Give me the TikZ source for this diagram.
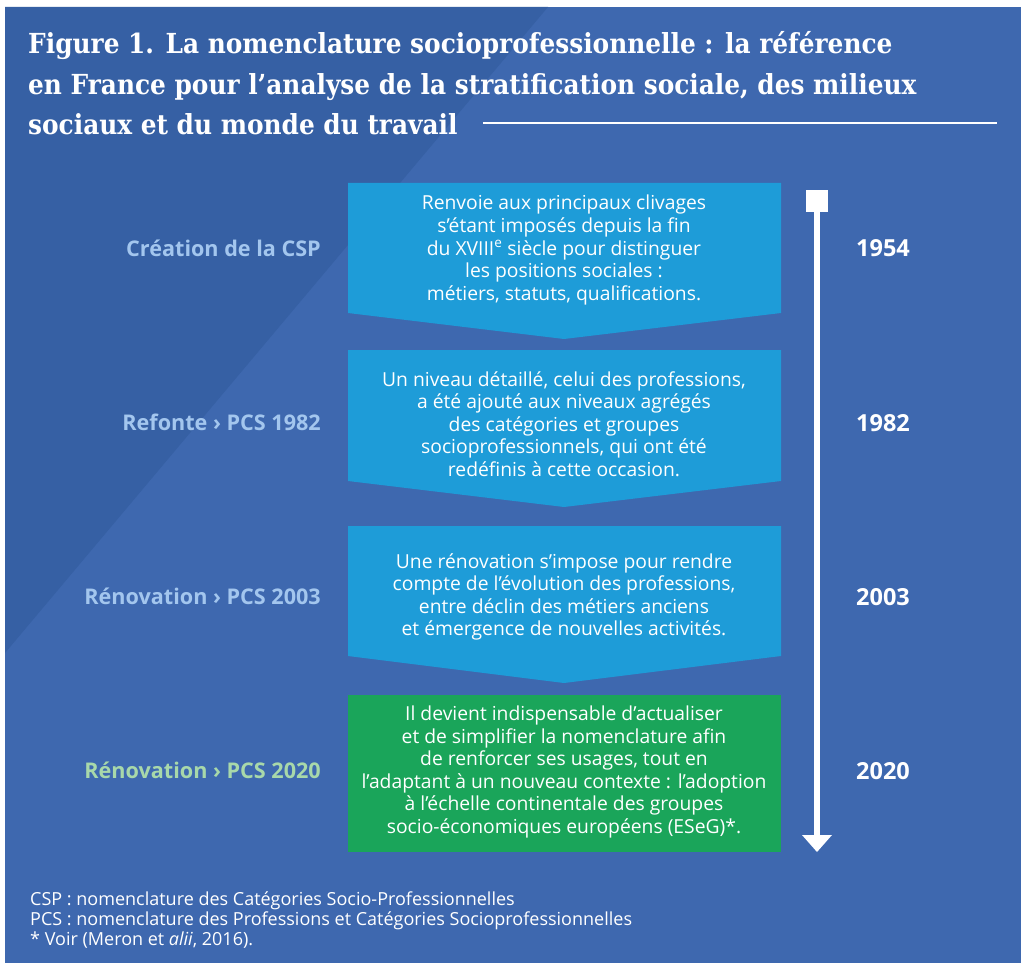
\documentclass[tikz,border=0pt]{standalone}
\usepackage{fontspec}
\setmainfont{Open Sans}
\newfontfamily\titlefont{DejaVu Serif Condensed}
\definecolor{bgmain}{HTML}{3E68AF}
\definecolor{bgdark}{HTML}{3660A4}
\definecolor{boxblue}{HTML}{1E9CD8}
\definecolor{boxgreen}{HTML}{1AA55A}
\definecolor{lblblue}{HTML}{A3C6EE}
\definecolor{lblgreen}{HTML}{A8D8AA}
\tikzset{
  boxtext/.style={text=white, align=center, font=\fontsize{19.3}{22.6}\selectfont, inner sep=0pt},
  steplabel/.style={anchor=east, text=lblblue, font=\fontsize{21.6}{25}\selectfont\bfseries, inner sep=0pt},
  yearlabel/.style={text=white, font=\fontsize{23.5}{27}\selectfont\bfseries, inner sep=0pt},
  titleline/.style={anchor=base west, text=white, font=\titlefont\bfseries\fontsize{27.6}{32}\selectfont, inner sep=0pt},
  foot/.style={anchor=west, text=white, align=left, font=\fontsize{18}{20}\selectfont, inner sep=0pt},
}
\begin{document}
\begin{tikzpicture}[x=1pt,y=-1pt]
\useasboundingbox (0,0) rectangle (1021,963);
\fill[white] (0,0) rectangle (1021,963);
% background
\fill[bgmain] (5,7) rectangle (1021,963);
\fill[bgdark] (5,7) -- (548,7) -- (5,653) -- cycle;
% title
\node[titleline] (t1) at (28,54) {Figure 1. La nomenclature socioprofessionnelle : la référence};
\node[titleline] (t2) at (28,95) {en France pour l’analyse de la stratification sociale, des milieux};
\node[titleline] (t3) at (28,135) {sociaux et du monde du travail};
\coordinate (r1) at (483,123);
\coordinate (r2) at (997,123);
\draw[white, line width=2pt] (r1) -- (r2);
% boxes
\fill[boxblue] (348,183) -- (781,183) -- (781,313) -- (564,339) -- (348,313) -- cycle;
\fill[boxblue] (348,350) -- (781,350) -- (781,481) -- (564,507) -- (348,481) -- cycle;
\fill[boxblue] (348,526) -- (781,526) -- (781,656) -- (564,683) -- (348,656) -- cycle;
\fill[boxgreen] (348,695) rectangle (781,852);
\node[boxtext] (b1) at (564,250) {Renvoie aux principaux clivages\\s’étant imposés depuis la fin\\du XVIII\textsuperscript{e} siècle pour distinguer\\les positions sociales :\\métiers, statuts, qualifications.};
\node[boxtext] (b2) at (564,424) {Un niveau détaillé, celui des professions,\\a été ajouté aux niveaux agrégés\\des catégories et groupes\\socioprofessionnels, qui ont été\\redéfinis à cette occasion.};
\node[boxtext] (b3) at (564,597) {Une rénovation s’impose pour rendre\\compte de l’évolution des professions,\\entre déclin des métiers anciens\\et émergence de nouvelles activités.};
\node[boxtext] (b4) at (564,772) {Il devient indispensable d’actualiser\\et de simplifier la nomenclature afin\\de renforcer ses usages, tout en\\l’adaptant à un nouveau contexte : l’adoption\\à l’échelle continentale des groupes\\socio-économiques européens (ESeG)*.};
% labels
\node[steplabel] (l1) at (321,248) {Création de la CSP};
\node[steplabel] (l2) at (321,422) {Refonte › PCS 1982};
\node[steplabel] (l3) at (321,596) {Rénovation › PCS 2003};
\node[steplabel, text=lblgreen] (l4) at (321,770) {Rénovation › PCS 2020};
% years
\node[yearlabel] (y1) at (883,248) {1954};
\node[yearlabel] (y2) at (883,423) {1982};
\node[yearlabel] (y3) at (883,597) {2003};
\node[yearlabel] (y4) at (883,771) {2020};
% timeline
\node[fill=white, minimum size=22pt, inner sep=0pt] (sq) at (817,201) {};
\coordinate (tip) at (817,852);
\draw[white, line width=5.5pt] (sq.south) -- (817,837);
\fill[white] (802,835) -- (832,835) -- (tip) -- cycle;
% footer
\node[foot] (f) at (30,920) {CSP : nomenclature des Catégories Socio-Professionnelles\\PCS : nomenclature des Professions et Catégories Socioprofessionnelles\\* Voir (Meron et \textit{alii}, 2016).};
\end{tikzpicture}
\end{document}
